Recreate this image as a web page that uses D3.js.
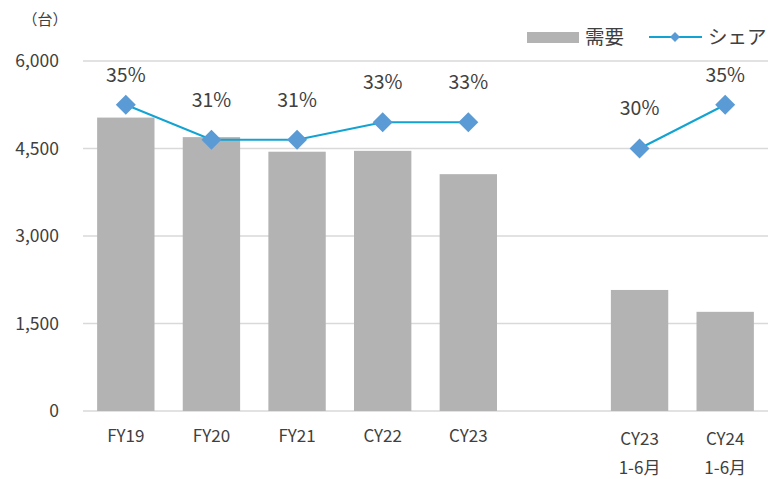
<!DOCTYPE html>
<html>
<head>
<meta charset="utf-8">
<script src="https://cdn.jsdelivr.net/npm/d3@7"></script>
<style>
  body { margin: 0; background: #fff; }
  text { font-family: "Noto Sans CJK JP", "Noto Sans", sans-serif; fill: #404040; }
</style>
</head>
<body>
<div id="chart"></div>
<script>
// data
const categories = ["FY19", "FY20", "FY21", "CY22", "CY23", "gap", "CY23H1", "CY24H1"];
const categoryLabels = [["FY19"], ["FY20"], ["FY21"], ["CY22"], ["CY23"], [], ["CY23", "1-6月"], ["CY24", "1-6月"]];
const demand = [5030, 4695, 4445, 4460, 4060, null, 2075, 1700];
const share = [35, 31, 31, 33, 33, null, 30, 35];
const yTicks = [0, 1500, 3000, 4500, 6000];

const fullWidth = 769;
const fullHeight = 479;
const margin = { top: 61, right: 1, bottom: 68, left: 83 };
const width = fullWidth - margin.left - margin.right;
const height = fullHeight - margin.top - margin.bottom;

const svg = d3.select("#chart")
  .append("svg")
  .attr("width", fullWidth)
  .attr("height", fullHeight);

const g = svg.append("g")
  .attr("transform", `translate(${margin.left},${margin.top})`);

// scales
const x = d3.scaleBand()
  .domain(categories)
  .range([0, width])
  .paddingInner(0.33)
  .paddingOuter(0.165);

const y = d3.scaleLinear().domain([0, 6000]).range([height, 0]);
const y2 = d3.scaleLinear().domain([0, 40]).range([height, 0]); // hidden secondary axis

// grid lines
g.append("g")
  .selectAll("line")
  .data(yTicks)
  .join("line")
  .attr("x1", 0)
  .attr("x2", width)
  .attr("y1", d => y(d))
  .attr("y2", d => y(d))
  .attr("stroke", "#d9d9d9")
  .attr("stroke-width", 1.5);

// y axis labels
g.append("g")
  .selectAll("text")
  .data(yTicks)
  .join("text")
  .attr("x", -24)
  .attr("y", d => y(d))
  .attr("dy", "0.35em")
  .attr("text-anchor", "end")
  .style("font-size", "17.5px")
  .text(d => d3.format(",")(d));

// unit label
svg.append("text")
  .attr("x", 45)
  .attr("y", 20)
  .attr("dy", "0.35em")
  .attr("text-anchor", "middle")
  .style("font-size", "15px")
  .text("（台）");

// bars
const barData = categories.map((c, i) => ({ c, v: demand[i] })).filter(d => d.v != null);
g.selectAll(".bar")
  .data(barData)
  .join("rect")
  .attr("class", "bar")
  .attr("x", d => x(d.c))
  .attr("width", x.bandwidth())
  .attr("y", d => y(d.v))
  .attr("height", d => height - y(d.v))
  .attr("fill", "#b3b3b3");

// category labels
const cx = c => x(c) + x.bandwidth() / 2;
const catG = g.append("g");
categories.forEach((c, i) => {
  const lines = categoryLabels[i];
  lines.forEach((t, j) => {
    catG.append("text")
      .attr("x", cx(c))
      .attr("y", height + (lines.length > 1 ? 28 : 25) + j * 29)
      .attr("dy", "0.35em")
      .attr("text-anchor", "middle")
      .style("font-size", "17px")
      .text(t);
  });
});

// share line
const shareData = categories.map((c, i) => ({ c, v: share[i] }));
const line = d3.line()
  .defined(d => d.v != null)
  .x(d => cx(d.c))
  .y(d => y2(d.v));

g.append("path")
  .datum(shareData)
  .attr("fill", "none")
  .attr("stroke", "#12a3d3")
  .attr("stroke-width", 2)
  .attr("d", line);

const diamond = d3.symbol().type(d3.symbolSquare).size(200);
const pts = shareData.filter(d => d.v != null);

g.selectAll(".marker")
  .data(pts)
  .join("path")
  .attr("class", "marker")
  .attr("d", diamond)
  .attr("transform", d => `translate(${cx(d.c)},${y2(d.v)}) rotate(45)`)
  .attr("fill", "#5b9bd5");

// share labels (kept inside plot area)
g.selectAll(".share-label")
  .data(pts)
  .join("text")
  .attr("class", "share-label")
  .attr("x", d => cx(d.c))
  .attr("y", d => Math.max(y2(d.v) - 40, 14))
  .attr("dy", "0.35em")
  .attr("text-anchor", "middle")
  .style("font-size", "19.5px")
  .text(d => d.v + "%");

// legend
const legend = svg.append("g");
legend.append("rect")
  .attr("x", 527)
  .attr("y", 32)
  .attr("width", 52)
  .attr("height", 11)
  .attr("fill", "#b3b3b3");
legend.append("text")
  .attr("x", 585)
  .attr("y", 37)
  .attr("dy", "0.35em")
  .style("font-size", "19.5px")
  .text("需要");
legend.append("line")
  .attr("x1", 649)
  .attr("x2", 702)
  .attr("y1", 37)
  .attr("y2", 37)
  .attr("stroke", "#12a3d3")
  .attr("stroke-width", 2);
legend.append("path")
  .attr("d", d3.symbol().type(d3.symbolSquare).size(50))
  .attr("transform", "translate(675,37) rotate(45)")
  .attr("fill", "#5b9bd5");
legend.append("text")
  .attr("x", 708)
  .attr("y", 37)
  .attr("dy", "0.35em")
  .style("font-size", "19.5px")
  .text("シェア");
</script>
</body>
</html>
